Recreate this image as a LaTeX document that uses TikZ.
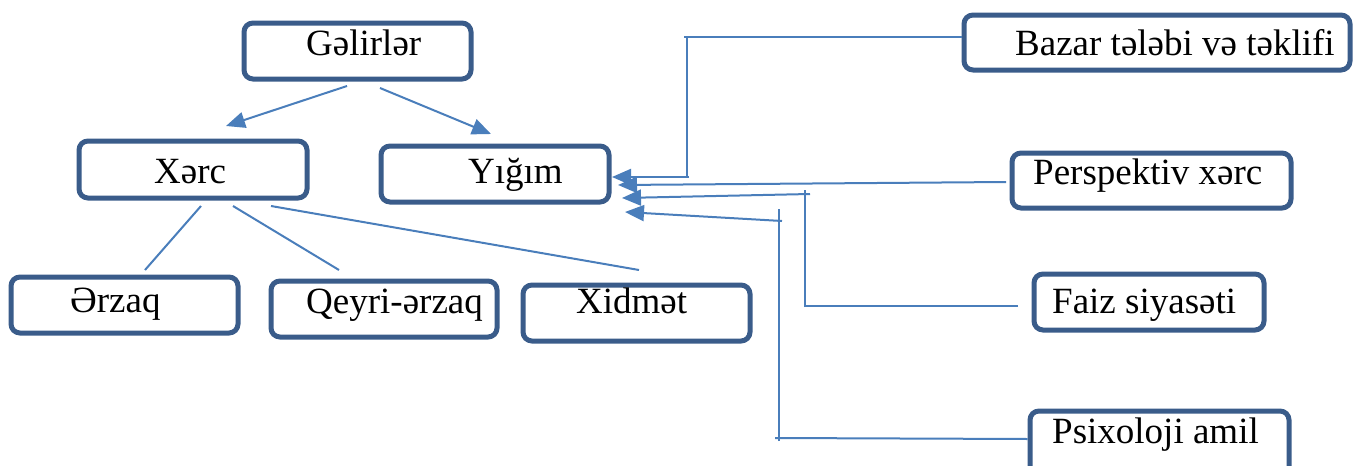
\documentclass[tikz,border=0pt]{standalone}
\usepackage{fontspec}
\setmainfont{Liberation Serif}
\usetikzlibrary{arrows.meta,fit}
\definecolor{boxblue}{RGB}{58,92,138}
\definecolor{linkblue}{RGB}{74,126,187}
\begin{document}
\begin{tikzpicture}[x=1pt,y=-1pt,
  box/.style={draw=boxblue,line width=5pt,rounded corners=9pt,inner sep=0pt,fill=white},
  lbl/.style={anchor=base west,inner sep=0pt,font=\fontsize{37}{40}\selectfont},
  link/.style={draw=linkblue,line width=2pt},
  arr/.style={link,-{Triangle[length=19pt,width=16pt]}}]
\useasboundingbox (0,0) rectangle (1361,466);
\clip (0,0) rectangle (1361,466);
% boxes
\node[box,fit={(244,23) (471,79)}] (gel) {};
\node[box,fit={(79,141) (307,198)}] (xerc) {};
\node[box,fit={(381,146) (609,202)}] (yigim) {};
\node[box,fit={(11,277) (238,333)}] (erzaq) {};
\node[box,fit={(271,281) (497,337)}] (qeyri) {};
\node[box,fit={(523,285) (750,341)}] (xidmet) {};
\node[box,fit={(964,15) (1350,70)}] (bazar) {};
\node[box,fit={(1012,153) (1291,208)}] (persp) {};
\node[box,fit={(1034,274) (1264,330)}] (faiz) {};
\node[box,fit={(1030,411) (1289,480)}] (psix) {};
% labels
\node[lbl] (tgel) at (306,55) {Gəlirlər};
\node[lbl] (txerc) at (154,183) {Xərc};
\node[lbl] (tyig) at (468,183) {Yığım};
\node[lbl] (terz) at (70,312) {Ərzaq};
\node[lbl] (tqey) at (306,313) {Qeyri-ərzaq};
\node[lbl] (txid) at (576,313) {Xidmət};
\node[lbl] (tbaz) at (1015,55) {Bazar tələbi və təklifi};
\node[lbl] (tper) at (1033,184) {Perspektiv xərc};
\node[lbl] (tfai) at (1052,313) {Faiz siyasəti};
\node[lbl] (tpsi) at (1052,443) {Psixoloji amil};
% connector end points
\coordinate (g1) at (347,86);
\coordinate (g2) at (380,88);
\coordinate (xt) at (226,126);
\coordinate (yt) at (491,134);
\coordinate (x1) at (201,206);
\coordinate (x2) at (233,206);
\coordinate (x3) at (271,206);
\coordinate (e1) at (145,270);
\coordinate (q1) at (339,270);
\coordinate (d1) at (639,270);
% tree connectors
\draw[arr] (g1) -- (xt);
\draw[arr] (g2) -- (yt);
\draw[link] (x1) -- (e1);
\draw[link] (x2) -- (q1);
\draw[link] (x3) -- (d1);
% right side connectors
\coordinate (b0) at (bazar.west |- 0,37);
\coordinate (b1) at (684,37);
\coordinate (b2) at (687,36);
\coordinate (b3) at (687,178);
\coordinate (b4) at (689,177);
\coordinate (bt) at (612,177);
\draw[link] (b0) -- (b1);
\draw[link] (b2) -- (b3);
\draw[arr] (b4) -- (bt);
\coordinate (p0) at (1006,182);
\coordinate (pt) at (618,185);
\draw[arr] (p0) -- (pt);
\coordinate (f0) at (1018,306);
\coordinate (f1) at (804,306);
\coordinate (f2) at (805,307);
\coordinate (f3) at (805,190);
\coordinate (f4) at (810,194);
\coordinate (ft) at (622,198);
\draw[link] (f0) -- (f1);
\draw[link] (f2) -- (f3);
\draw[arr] (f4) -- (ft);
\coordinate (s0) at (psix.west |- 0,439);
\coordinate (s1) at (775,438);
\coordinate (s2) at (779,441);
\coordinate (s3) at (779,209);
\coordinate (s4) at (782,221);
\coordinate (st) at (625,212);
\draw[link] (s0) -- (s1);
\draw[link] (s2) -- (s3);
\draw[arr] (s4) -- (st);
\end{tikzpicture}
\end{document}
